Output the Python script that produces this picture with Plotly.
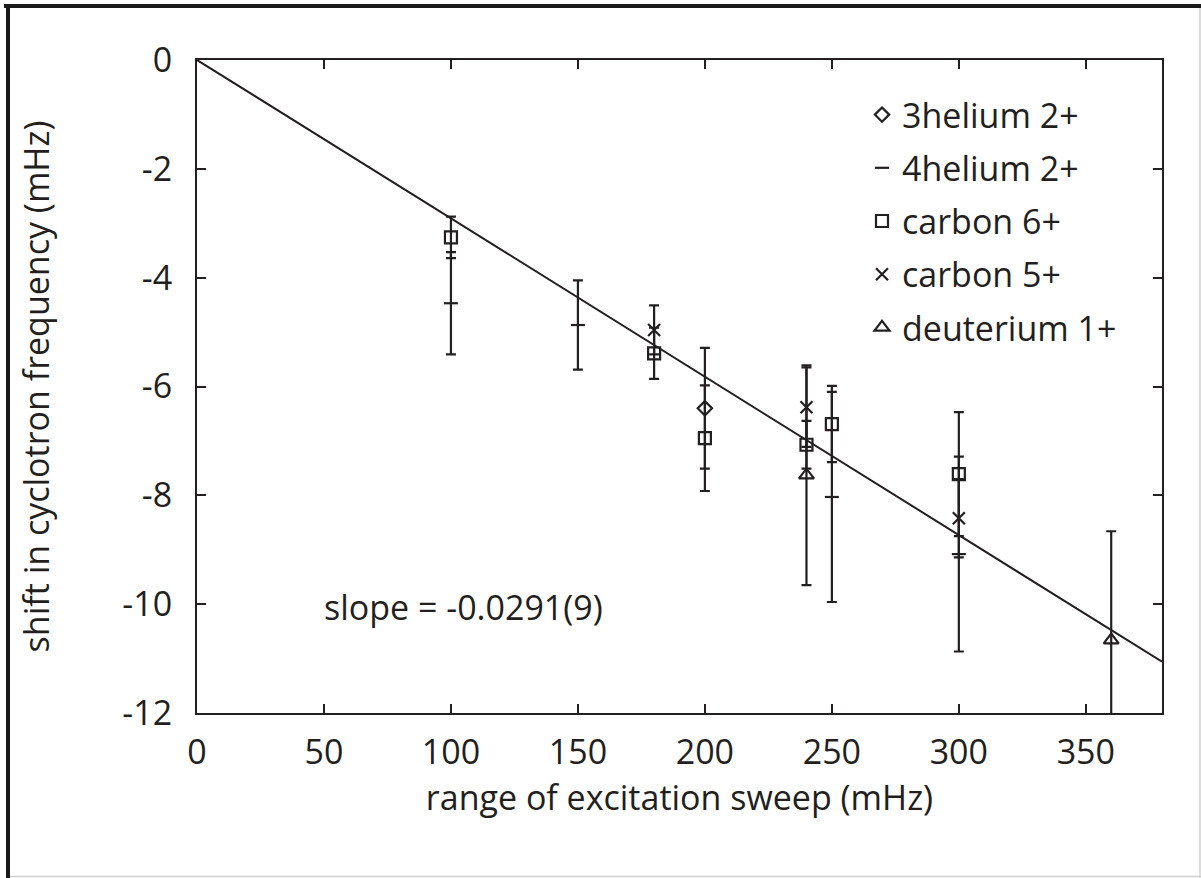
import plotly.graph_objects as go

# ---------------- data ----------------
he3_x = [200]
he3_y = [-6.40]
he3_err = [1.11]

he4_x = [100, 150, 250, 300]
he4_y = [-4.47, -4.87, -8.03, -9.08]
he4_err = [0.94, 0.82, 1.93, 1.79]

c6_x = [100, 180, 200, 240, 250, 300]
c6_y = [-3.26, -5.39, -6.95, -7.07, -6.69, -7.61]
c6_err = [0.38, 0.47, 0.97, 0.44, 0.70, 1.14]

c5_x = [180, 240, 300]
c5_y = [-4.96, -6.38, -8.42]
c5_err = [0.45, 0.73, 0.72]

d_x = [240, 360]
d_y = [-7.63, -10.66]
d_err = [2.02, 2.00]

fit_slope = -0.0291
fit_x = [0, 380]
fit_label = "slope = -0.0291(9)"

x_ticks = [0, 50, 100, 150, 200, 250, 300, 350]
y_ticks = [0, -2, -4, -6, -8, -10, -12]

# ---------------- style ----------------
INK = "#231f20"
FONT = "Open Sans"
FS = 34
W, H = 1201, 878
L, R, T, B = 197, 1162, 60, 713  # plot area in pixels


def px(xp):
    return (xp - L) / (R - L)


def py(yp):
    return (B - yp) / (B - T)


fig = go.Figure()

fig.add_trace(go.Scatter(
    x=fit_x, y=[fit_slope * v for v in fit_x], mode="lines",
    line=dict(color=INK, width=2), showlegend=False, hoverinfo="skip"))

series = [
    ("3helium 2+", he3_x, he3_y, he3_err, "diamond-open", 11),
    ("4helium 2+", he4_x, he4_y, he4_err, "line-ew-open", 10),
    ("carbon 6+", c6_x, c6_y, c6_err, "square-open", 12),
    ("carbon 5+", c5_x, c5_y, c5_err, "x-thin-open", 12),
    ("deuterium 1+", d_x, d_y, d_err, "triangle-up-open", 13),
]
for i, (name, xs, ys, es, sym, sz) in enumerate(series):
    fig.add_trace(go.Scatter(
        x=xs, y=ys, name=name, mode="markers", legendgroup=f"g{i}",
        marker=dict(symbol=sym, size=sz, color=INK,
                    line=dict(color=INK, width=2.2)),
        error_y=dict(type="data", array=es, visible=True, color=INK,
                     thickness=2.2, width=5),
    ))

fig.add_annotation(x=105, y=-10.05, text=fit_label, showarrow=False,
                   xanchor="center", yanchor="middle",
                   font=dict(family=FONT, size=FS, color=INK))

axis_common = dict(
    showline=True, linecolor=INK, linewidth=2, mirror="ticks",
    ticks="inside", ticklen=9, tickwidth=2, tickcolor=INK,
    showgrid=False, zeroline=False,
    tickfont=dict(family=FONT, size=FS, color=INK),
)

fig.update_xaxes(range=[0, 380], tickvals=x_ticks,
                 ticktext=[str(v) for v in x_ticks],
                 title=dict(text="range of excitation sweep (mHz)",
                            font=dict(family=FONT, size=FS, color=INK),
                            standoff=10),
                 ticklabelstandoff=8,
                 **axis_common)
fig.update_yaxes(range=[-12, 0], tickvals=y_ticks,
                 ticktext=[str(v) for v in y_ticks],
                 title=dict(text="shift in cyclotron frequency (mHz)",
                            font=dict(family=FONT, size=FS, color=INK),
                            standoff=62),
                 ticklabelstandoff=16,
                 **axis_common)

# outer frame (thick dark top/left, faint right/bottom)
fig.add_shape(type="line", xref="paper", yref="paper",
              x0=px(4), x1=px(1201), y0=py(6), y1=py(6),
              line=dict(color="#1a1a1a", width=4))
fig.add_shape(type="line", xref="paper", yref="paper",
              x0=px(8), x1=px(8), y0=py(4), y1=py(878),
              line=dict(color="#1a1a1a", width=4))
fig.add_shape(type="line", xref="paper", yref="paper",
              x0=px(1200), x1=px(1200), y0=py(8), y1=py(878),
              line=dict(color="#d0d0d0", width=1.5))
fig.add_shape(type="line", xref="paper", yref="paper",
              x0=px(10), x1=px(1201), y0=py(876.5), y1=py(876.5),
              line=dict(color="#d0d0d0", width=1.5))

fig.update_layout(
    width=W, height=H,
    margin=dict(l=L, r=W - R, t=T, b=H - B, autoexpand=False),
    paper_bgcolor="white", plot_bgcolor="white",
    font=dict(family=FONT, size=FS, color=INK),
    showlegend=True,
    legend=dict(x=px(862), y=py(86), xanchor="left", yanchor="top",
                bgcolor="rgba(0,0,0,0)", tracegroupgap=6,
                font=dict(family=FONT, size=FS, color=INK)),
)

fig.write_html("out.html")
